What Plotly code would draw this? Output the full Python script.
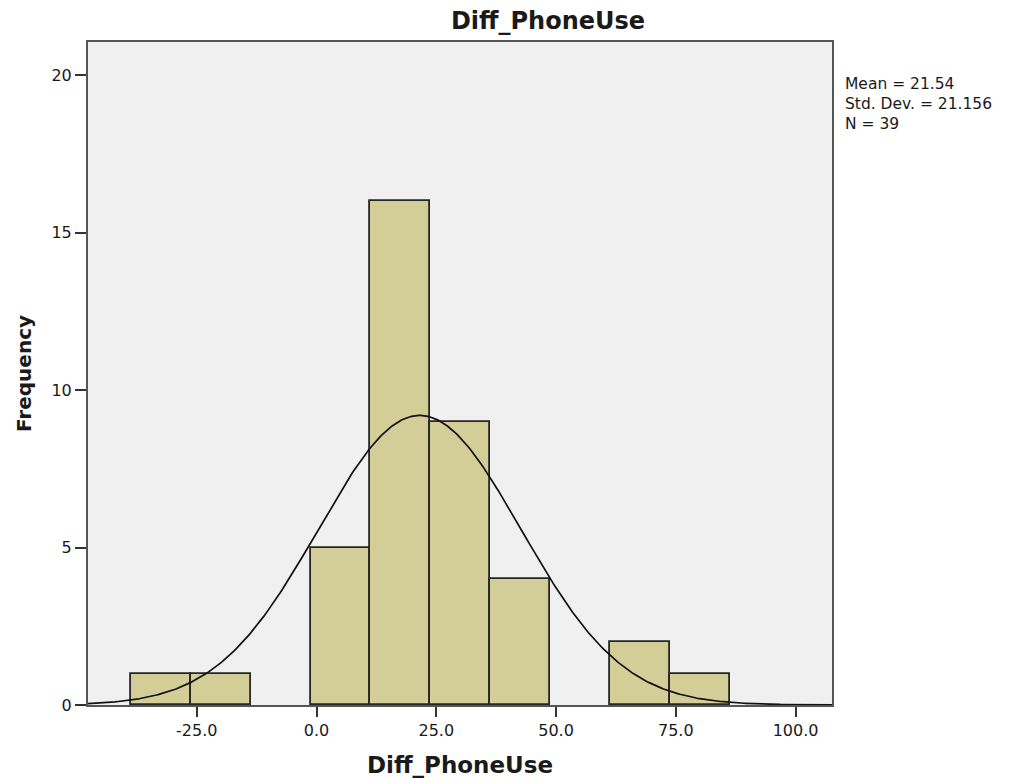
import numpy as np
import plotly.graph_objects as go

# ---- data ----
bin_centers = [-32.5, -20.0, -7.5, 5.0, 17.5, 30.0, 42.5, 55.0, 67.5, 80.0]
frequencies = [1, 1, 0, 5, 16, 9, 4, 0, 2, 1]
bin_width = 12.5
mean = 21.54
std_dev = 21.156
n_obs = 39
x_tick_vals = [-25, 0, 25, 50, 75, 100]
x_tick_text = ["-25.0", "0.0", "25.0", "50.0", "75.0", "100.0"]
y_tick_vals = [0, 5, 10, 15, 20]
y_tick_text = ["0", "5", "10", "15", "20"]
stats_lines = ["Mean = 21.54", "Std. Dev. = 21.156", "N = 39"]

X_RANGE = [-47.7, 107.6]
Y_RANGE = [0, 21.05]

FONT = "DejaVu Sans"
TXT = "#1a1a1a"

bx = [c for c, f in zip(bin_centers, frequencies) if f > 0]
by = [f for f in frequencies if f > 0]

fig = go.Figure()
fig.add_trace(go.Bar(
    x=bx, y=by, width=bin_width,
    marker=dict(color="#D3CE98", line=dict(color="#262626", width=1.8)),
    hoverinfo="x+y", showlegend=False,
))

# fitted normal curve scaled to frequency
xc = np.linspace(X_RANGE[0], X_RANGE[1], 500)
yc = n_obs * bin_width / (std_dev * np.sqrt(2 * np.pi)) * np.exp(-0.5 * ((xc - mean) / std_dev) ** 2)
fig.add_trace(go.Scatter(x=xc, y=yc, mode="lines",
                         line=dict(color="#111111", width=1.7),
                         hoverinfo="skip", showlegend=False))

W, H = 1010, 782
ML, MT = 88, 42
MR = W - 832
MB = H - 705

fig.update_layout(
    width=W, height=H,
    margin=dict(l=ML, r=MR, t=MT, b=MB, autoexpand=False),
    paper_bgcolor="white", plot_bgcolor="#F0F0F0",
    font=dict(family=FONT, color=TXT, size=16),
    title=dict(text="<b>Diff_PhoneUse</b>", x=548 / W, xanchor="center",
               y=1 - 21 / H, yanchor="middle", font=dict(size=24, family=FONT, color=TXT)),
    bargap=0,
)
fig.update_xaxes(
    range=X_RANGE, tickmode="array", tickvals=x_tick_vals, ticktext=x_tick_text,
    ticks="outside", ticklen=10, tickwidth=1.5, tickcolor="#333",
    showline=True, linecolor="#555", linewidth=2, mirror=True,
    showgrid=False, zeroline=False, automargin=False,
    tickfont=dict(size=16, family=FONT, color=TXT),
    title=dict(text="<b>Diff_PhoneUse</b>", font=dict(size=23, family=FONT, color=TXT), standoff=18),
)
fig.update_yaxes(
    range=Y_RANGE, tickmode="array", tickvals=y_tick_vals, ticktext=y_tick_text,
    ticks="outside", ticklen=11, tickwidth=1.5, tickcolor="#333",
    showline=True, linecolor="#555", linewidth=2, mirror=True,
    showgrid=False, zeroline=False, automargin=False,
    tickfont=dict(size=16, family=FONT, color=TXT),
    title=dict(text="<b>Frequency</b>", font=dict(size=20, family=FONT, color=TXT), standoff=14),
)

plot_w = W - ML - MR
plot_h = H - MT - MB
fig.add_annotation(
    text="<br>".join(stats_lines), xref="paper", yref="paper",
    x=(843 - ML) / plot_w, y=1 - (73 - MT) / plot_h,
    xanchor="left", yanchor="top", align="left", showarrow=False,
    font=dict(size=15.5, family=FONT, color=TXT),
)

# remove the default page margin so figure pixels equal page pixels
fig.write_html("out.html", config={"displayModeBar": False},
               post_script="document.body.style.margin='0';")
